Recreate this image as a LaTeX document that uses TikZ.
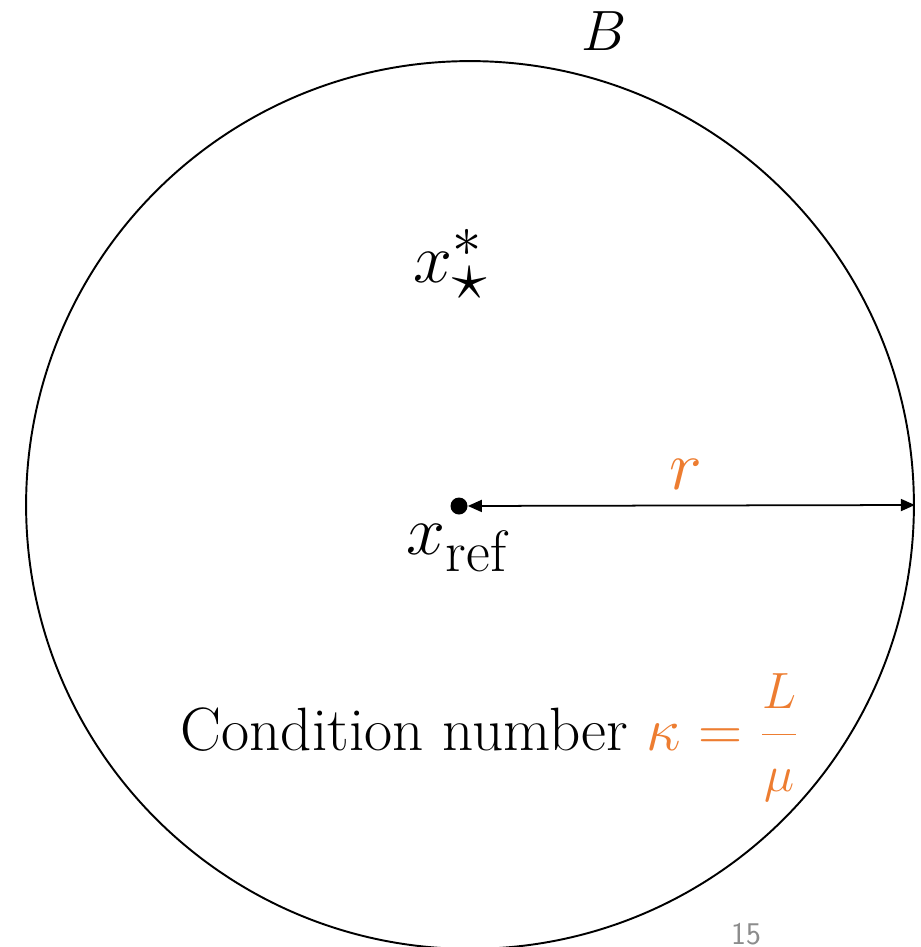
\documentclass[tikz,border=0pt]{standalone}
\usetikzlibrary{positioning,arrows.meta}
\definecolor{radiusOrange}{HTML}{ED7D31}
\definecolor{slideGray}{HTML}{8C8C8C}

\begin{document}
\begin{tikzpicture}[x=0.02cm, y=-0.02cm, >={Triangle[length=2.8mm, width=2.4mm]},
    bigmath/.style={font=\Huge, scale=1.6},
    bigtext/.style={font=\Huge, scale=1.4}]
        \useasboundingbox (0,0) rectangle (920,947);
        \node[circle, draw, line width=1.1pt, minimum size=17.76cm, inner sep=0pt] (ball) at (470,505) {};
        \node[font=\Huge, scale=1.3] (ballname) at (604,31) {$B$};
        \node[bigmath, anchor=base west, inner sep=0pt] (xstar) at (413,282) {$x^{*}_{\textstyle\star}$};
        \node[circle, fill, minimum size=0.34cm, inner sep=0pt] (xref) at (459,506) {};
        \node[bigmath, below=0cm of xref] (xreflabel) {$x_{\mathrm{ref}}$};
        \draw[<->, line width=1pt] (xref) -- (ball.east);
        \node[bigmath, radiusOrange] (radius) at (686,474) {$r$};
        \node[bigtext, anchor=base] (cond) at (490,750) {Condition number {\color{radiusOrange}$\kappa = {\displaystyle\frac{\scriptstyle L}{\scriptstyle\mu}}$}};
        \node[font=\sffamily\fontsize{18}{20}\selectfont, slideGray] (pagenum) at (746,934) {15};
      \end{tikzpicture}
\end{document}
